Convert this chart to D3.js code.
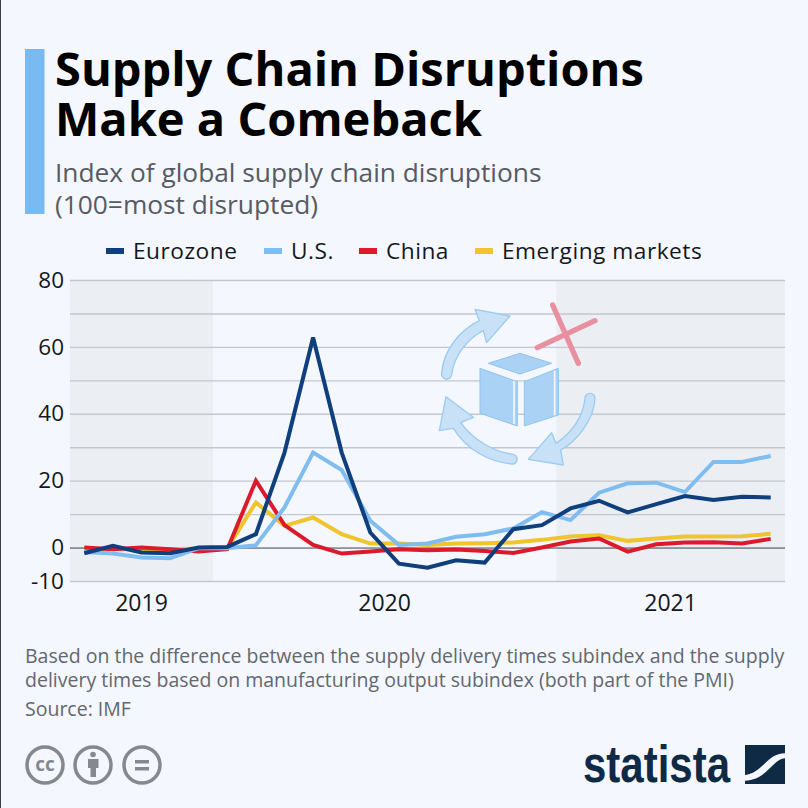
<!DOCTYPE html>
<html>
<head>
<meta charset="utf-8">
<script src="https://cdn.jsdelivr.net/npm/d3@7/dist/d3.min.js"></script>
<style>
  html, body { margin: 0; padding: 0; background: #f4f7fd; }
  svg { display: block; }
  text { font-family: "Open Sans", sans-serif; }
</style>
</head>
<body>
<svg id="chart"></svg>
<script>
const months = [
  '2019-08', '2019-09', '2019-10', '2019-11', '2019-12',
  '2020-01', '2020-02', '2020-03', '2020-04', '2020-05', '2020-06',
  '2020-07', '2020-08', '2020-09', '2020-10', '2020-11', '2020-12',
  '2021-01', '2021-02', '2021-03', '2021-04', '2021-05', '2021-06', '2021-07', '2021-08'
];
const eurozone = [-1.7, 0.5, -1.5, -1.7, 0, 0.2, 4, 28.4, 62.8, 28.4, 4.5, -4.8, -6, -3.8, -4.5, 5.5, 6.7, 11.7, 14, 10.5, 13, 15.4, 14.2, 15.2, 15];
const us = [-1.3, -1.8, -3, -3.2, -0.2, -0.2, 0.7, 12, 28.4, 23.2, 8, 0.8, 1.2, 3.2, 4, 5.7, 10.6, 8.2, 16.4, 19.2, 19.4, 16.6, 25.6, 25.6, 27.4];
const china = [0, -0.5, 0, -0.5, -1.2, -0.5, 20, 6.7, 0.8, -1.8, -1.2, -0.5, -0.8, -0.6, -1, -1.6, 0, 1.8, 2.7, -1.2, 1, 1.5, 1.6, 1.2, 2.6];
const emerging = [-0.3, -0.5, -0.5, -0.5, -0.3, -0.3, 13.5, 6.5, 9, 4, 1.2, 1.2, 0.8, 1.2, 1.3, 1.5, 2.3, 3.3, 3.7, 2, 2.7, 3.3, 3.3, 3.4, 4.1];

const yTicks = [-10, 0, 10, 20, 30, 40, 50, 60, 70, 80];
const yLabels = [-10, 0, 20, 40, 60, 80];
const years = ['2019', '2020', '2021'];
const shadedYears = ['2019', '2021'];

const seriesNames = ['Eurozone', 'U.S.', 'China', 'Emerging markets'];
const seriesValues = [eurozone, us, china, emerging];
const seriesColors = ['#0f3f7c', '#7fbdf0', '#dc1a2c', '#efc42c'];
const legendX = [106, 264, 359, 475];

const width = 808;
const height = 808;
const margin = { top: 280, right: 23, bottom: 227, left: 70 };

const svg = d3.select('#chart').attr('width', width).attr('height', height);

svg.append('rect').attr('width', width).attr('height', height).attr('fill', '#f4f7fd');
svg.append('rect').attr('width', 1).attr('height', height).attr('fill', '#3a3f47');

// header
svg.append('rect').attr('x', 25).attr('y', 49).attr('width', 19.5).attr('height', 165).attr('fill', '#78baf1');
svg.selectAll('.title')
  .data(['Supply Chain Disruptions', 'Make a Comeback'])
  .enter().append('text')
  .attr('class', 'title')
  .attr('x', 55)
  .attr('y', (d, i) => 86 + i * 49.5)
  .attr('font-size', 47)
  .attr('font-weight', 700)
  .attr('fill', '#000')
  .text(d => d);
svg.selectAll('.subtitle')
  .data(['Index of global supply chain disruptions', '(100=most disrupted)'])
  .enter().append('text')
  .attr('class', 'subtitle')
  .attr('x', 55)
  .attr('y', (d, i) => 181.5 + i * 32)
  .attr('font-size', 26.3)
  .attr('fill', '#565b63')
  .text(d => d);

// legend
const legend = svg.selectAll('.legend')
  .data(seriesNames)
  .enter().append('g')
  .attr('class', 'legend')
  .attr('transform', (d, i) => `translate(${legendX[i]},251)`);
legend.append('rect')
  .attr('y', -3).attr('width', 18).attr('height', 6)
  .attr('fill', (d, i) => seriesColors[i]);
legend.append('text')
  .attr('x', 27).attr('y', 8)
  .attr('font-size', 22.7)
  .attr('letter-spacing', 0.5)
  .attr('fill', '#14171c')
  .text(d => d);

// scales
const x = d3.scaleBand().domain(months).range([margin.left, width - margin.right]);
const y = d3.scaleLinear().domain([-10, 80]).range([height - margin.bottom, margin.top]);
const xMid = m => x(m) + x.bandwidth() / 2;
const yearMonths = yr => months.filter(m => m.startsWith(yr));
const yearStart = yr => x(yearMonths(yr)[0]);
const yearEnd = yr => x(yearMonths(yr).slice(-1)[0]) + x.bandwidth();

// shaded years
svg.selectAll('.year-band')
  .data(shadedYears)
  .enter().append('rect')
  .attr('class', 'year-band')
  .attr('x', yearStart)
  .attr('y', y(80))
  .attr('width', d => yearEnd(d) - yearStart(d))
  .attr('height', y(-10) - y(80))
  .attr('fill', '#ebeff4');

// y axis with gridlines
const yAxis = d3.axisLeft(y)
  .tickValues(yTicks)
  .tickSize(-(width - margin.left - margin.right))
  .tickPadding(6)
  .tickFormat(d => yLabels.includes(d) ? d : '');
const yG = svg.append('g')
  .attr('transform', `translate(${margin.left},0)`)
  .call(yAxis);
yG.select('.domain').remove();
yG.selectAll('line')
  .attr('stroke', d => d === 0 ? '#3d4047' : '#c3c7ce')
  .attr('stroke-width', d => d === 0 ? 1 : 1.4);
yG.selectAll('text')
  .attr('font-size', 22.5)
  .attr('fill', '#14171c')
  .style('font-family', '"Open Sans", sans-serif');

// year labels
svg.selectAll('.year')
  .data(years)
  .enter().append('text')
  .attr('class', 'year')
  .attr('x', d => (yearStart(d) + yearEnd(d)) / 2)
  .attr('y', 611)
  .attr('text-anchor', 'middle')
  .attr('font-size', 23)
  .attr('fill', '#14171c')
  .text(d => d);

// decorative icon, drawn in a 3x grid
const icon = svg.append('g').attr('transform', 'translate(430,300) scale(0.3333)');
const arrowStyle = g => g.attr('fill', '#c8e1f7').attr('stroke', '#9accf3').attr('stroke-width', 4).attr('stroke-linejoin', 'round');
icon.append('path').call(arrowStyle)
  .attr('d', 'M35 220 C40 150 90 90 148 62 L135 28 L240 48 L170 128 L160 92 C115 115 72 165 65 225 A15 15 0 0 1 35 220 Z');
icon.append('path').call(arrowStyle)
  .attr('d', 'M495 295 C492 360 440 425 392 450 L400 495 L295 478 L365 398 L378 430 C425 400 460 350 465 295 A15 15 0 0 1 495 295 Z');
icon.append('path').call(arrowStyle)
  .attr('d', 'M250 492 C180 488 110 450 70 385 L28 392 L48 290 L130 352 L92 368 C130 420 190 455 250 463 A15 15 0 0 1 250 492 Z');
const boxStyle = g => g.attr('fill', '#aad2f5').attr('stroke', '#8fc3ef').attr('stroke-width', 3);
icon.append('path').call(boxStyle).attr('d', 'M175 190 L270 160 L365 190 L270 222 Z');
icon.append('path').call(boxStyle).attr('d', 'M150 205 L262 245 L262 378 L150 340 Z');
icon.append('path').call(boxStyle).attr('d', 'M283 245 L385 205 L385 345 L283 378 Z');
icon.append('path').attr('fill', 'none').attr('stroke', '#f4f7fd').attr('stroke-width', 5)
  .attr('d', 'M252 242 V372 M374 212 V346');
icon.append('path').attr('fill', 'none').attr('stroke', '#e88fa0').attr('stroke-width', 16).attr('stroke-linecap', 'round')
  .attr('d', 'M368 15 L445 190 M322 143 L495 62');

// lines, back to front
const line = d3.line()
  .x((d, i) => xMid(months[i]))
  .y(d => y(d));
svg.selectAll('.series')
  .data(d3.range(seriesValues.length).reverse())
  .enter().append('path')
  .attr('class', 'series')
  .attr('fill', 'none')
  .attr('stroke', d => seriesColors[d])
  .attr('stroke-width', 4)
  .attr('stroke-linejoin', 'miter')
  .attr('d', d => line(seriesValues[d]));

// footer
svg.selectAll('.note')
  .data([
    'Based on the difference between the supply delivery times subindex and the supply',
    'delivery times based on manufacturing output subindex (both part of the PMI)',
    'Source: IMF'
  ])
  .enter().append('text')
  .attr('class', 'note')
  .attr('x', 25)
  .attr('y', (d, i) => i < 2 ? 662.5 + i * 24.5 : 716)
  .attr('font-size', 19.5)
  .attr('fill', '#63676f')
  .text(d => d);

// licence icons
const cc = svg.append('g').attr('fill', 'none').attr('stroke', '#85888d').attr('stroke-width', 3.5);
[45, 93, 142].forEach(cx => cc.append('circle').attr('cx', cx).attr('cy', 765).attr('r', 18));
svg.append('text').attr('x', 45).attr('y', 771).attr('text-anchor', 'middle')
  .attr('font-size', 19).attr('font-weight', 700).attr('fill', '#85888d').text('cc');
svg.append('circle').attr('cx', 93).attr('cy', 754.5).attr('r', 2.8).attr('fill', '#85888d');
svg.append('path').attr('fill', '#85888d').attr('d', 'M88 759 H98.5 V768 H96 V777 H90.5 V768 H88 Z');
svg.append('path').attr('fill', '#85888d').attr('d', 'M135 760 H149 V763.5 H135 Z M135 767 H149 V770.5 H135 Z');

// logo
svg.append('text')
  .attr('x', 583).attr('y', 782)
  .attr('font-size', 52)
  .attr('font-weight', 700)
  .attr('textLength', 147)
  .attr('lengthAdjust', 'spacingAndGlyphs')
  .attr('fill', '#0f2a44')
  .style('font-family', '"Liberation Sans Narrow", "Liberation Sans", sans-serif')
  .text('statista');
svg.append('rect').attr('x', 745).attr('y', 745).attr('width', 40).attr('height', 39).attr('fill', '#0f2a44');
svg.append('path').attr('fill', '#f4f7fd')
  .attr('d', 'M785 753.3 C766.7 753.3 763 773 745 775 L745 780.7 C767 780 773 758.3 785 758.3 Z');
</script>
</body>
</html>
